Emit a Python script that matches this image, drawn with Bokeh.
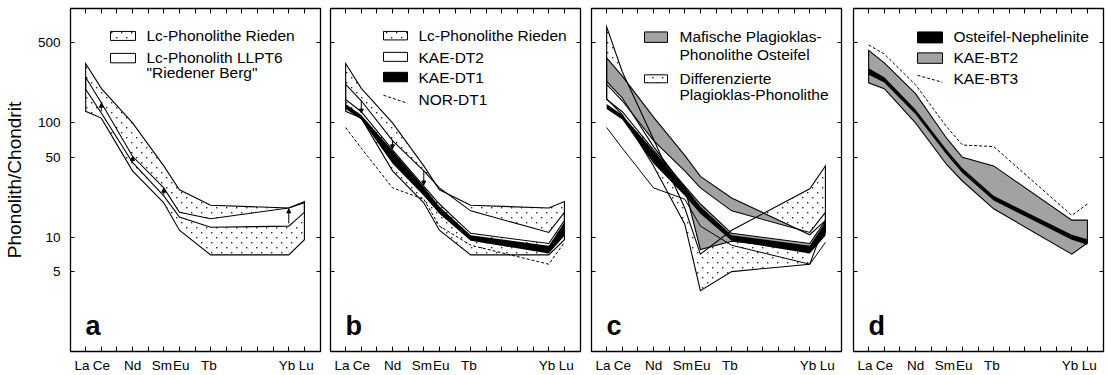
import base64
from bokeh.plotting import figure
from bokeh.layouts import row
from bokeh.models import (FixedTicker, LinearAxis, LogAxis, Range1d, BoxAnnotation,
                          Label, Arrow, NormalHead, NumeralTickFormatter, ImageURLTexture)
from bokeh.embed import file_html
from bokeh.resources import INLINE

# ---------------- data ----------------
REE = ["La", "Ce", "Pr", "Nd", "Pm", "Sm", "Eu", "Gd", "Tb", "Dy", "Ho", "Er", "Tm", "Yb", "Lu"]
ELEMENTS = ["La", "Ce", "Nd", "Sm", "Eu", "Tb", "Yb", "Lu"]
TICK_LABELS = ["La", "Ce", "Nd", "Sm", "Eu", "Tb", "Yb", "Lu"]
Y_TICKS = [5, 10, 50, 100, 500]

# panel a / b : Lc-Phonolithe Rieden (range)
rieden_max = [330, 200, 100, 42, 26, 19, 18, 20.5]
rieden_min = [126, 110, 38, 20, 11.5, 7.0, 7.0, 9.5]
# panel a : Lc-Phonolith LLPT6 "Riedener Berg"
llpt6_max = [250, 150, 51, 27, 16.5, 14.5, 18, 20]
llpt6_min = [196, 122, 45, 23, 15, 12.2, 12.5, 16.5]
llpt6_arrows = ["Ce", "Nd", "Sm", "Yb"]
# panel b : KAE-DT2, KAE-DT1, NOR-DT1
dt2_max = [217, 156, 70, 38, 27, 17, 11, 16.5]
dt2_min = [160, 125, 58, 28, 19.5, 10.8, 8.8, 14]
dt1_max = [146, 117, 57, 27.5, 18.5, 10.4, 8.4, 13.5]
dt1_min = [132, 107, 44, 23, 16, 9.3, 7.2, 10.3]
nor_dt1 = [91, 60, 27, 21.5, 12.5, 8.5, 5.8, 9.0]
dt2_arrows = ["Ce", "Nd", "Sm"]
# panel c : Mafische / Differenzierte Plagioklas-Phonolithe
mafic_max = [370, 256, 112, 52, 34, 22, 10.5, 14]
mafic_min = [230, 165, 62, 27, 7.8, 9.2, 7.8, 11]
diff_max = [690, 280, 72, 18, 7.1, 11.5, 26.5, 42]
diff_min = [162, 118, 42, 13, 3.4, 5.0, 5.8, 13.7]
# panel d : Osteifel-Nephelinite, KAE-BT2, KAE-BT3
neph_max = [300, 250, 131, 58, 40, 23, 10.5, 9.6]
neph_min = [263, 225, 119, 52.5, 36.5, 20.9, 9.5, 8.6]
bt2_max = [430, 335, 180, 73, 50, 42, 14.1, 14.1]
bt2_min = [224, 199, 100, 43, 31, 17.7, 7.1, 8.9]
bt3 = [480, 400, 215, 92, 64, 62, 15.5, 19.5]

X = [REE.index(e) for e in ELEMENTS]

# ---------------- layout constants ----------------
FRAME_W, FRAME_H = 250, 344
TOP, BOTTOM = 8, 23
X0, X1 = -0.97, 15.03
FONT = "Liberation Sans"
GRAY = "#a2a2a2"
LW = 1.1

_tile = ('<svg xmlns="http://www.w3.org/2000/svg" width="10" height="10">'
         '<rect x="1" y="2" width="1.4" height="1.4" fill="#2a2a2a"/>'
         '<rect x="6" y="7" width="1.4" height="1.4" fill="#2a2a2a"/></svg>')
DOT_URL = "data:image/svg+xml;base64," + base64.b64encode(_tile.encode()).decode()
DOT_TEX = ImageURLTexture(url=DOT_URL)
DOTS = dict(hatch_pattern="sdots", hatch_extra={"sdots": DOT_TEX},
            hatch_scale=10, hatch_color="black", hatch_weight=1)

# label nudges (the original labels are not exactly centred on their ticks)
LABEL_TEXT = {"La": "La\u00a0\u00a0", "Ce": "Ce", "Nd": "Nd", "Sm": "Sm\u00a0", "Eu": "\u00a0Eu",
              "Tb": "Tb\u00a0", "Yb": "Yb\u00a0", "Lu": "\u00a0Lu"}


def sx(off):
    return X0 + off / FRAME_W * (X1 - X0)


def sy(py):
    return 10 ** ((TOP + FRAME_H - py) / FRAME_H * 3)


def silent(ax):
    ax.major_label_text_color = None
    ax.major_label_text_font_size = "1px"
    ax.major_label_standoff = 0
    ax.minor_tick_line_color = None
    ax.axis_line_color = None
    ax.major_tick_out = 0


def make_panel(width, left, right, labels):
    p = figure(width=width, height=375, x_range=Range1d(X0, X1), y_range=Range1d(1, 1000),
               y_axis_type="log", output_backend="svg", toolbar_location=None,
               min_border_left=left, min_border_right=right,
               min_border_top=TOP, min_border_bottom=BOTTOM)
    p.grid.visible = False
    p.outline_line_color = "black"
    p.outline_line_width = 1.3
    p.outline_line_alpha = 1.0
    p.background_fill_color = "white"
    p.border_fill_color = "white"

    xa = p.xaxis[0]
    xa.ticker = FixedTicker(ticks=list(range(len(REE))))
    silent(xa)
    xa.major_tick_in = 5
    lab = LinearAxis(ticker=FixedTicker(ticks=[REE.index(e) for e in TICK_LABELS]),
                     major_label_overrides={REE.index(e): LABEL_TEXT[e] for e in TICK_LABELS},
                     major_tick_line_color=None, minor_tick_line_color=None, axis_line_color=None,
                     major_tick_in=0, major_tick_out=0, major_label_standoff=6,
                     major_label_text_font=FONT, major_label_text_font_size="13.5px",
                     major_label_text_color="black")
    p.add_layout(lab, "below")

    ya = p.yaxis[0]
    ya.ticker = FixedTicker(ticks=Y_TICKS)
    ya.formatter = NumeralTickFormatter(format="0")
    ya.major_tick_in = 4
    ya.major_tick_out = 0
    ya.minor_tick_line_color = None
    ya.axis_line_color = None
    if labels:
        ya.major_label_standoff = 10
        ya.major_label_text_font = FONT
        ya.major_label_text_font_size = "13.5px"
        ya.major_label_text_color = "black"
        ya.axis_label = "Phonolith/Chondrit"
        ya.axis_label_text_font = FONT
        ya.axis_label_text_font_size = "19px"
        ya.axis_label_text_font_style = "normal"
        ya.axis_label_text_color = "black"
        ya.axis_label_standoff = 10
    else:
        silent(ya)

    top = LinearAxis(ticker=FixedTicker(ticks=list(range(len(REE)))), major_tick_in=5)
    silent(top)
    p.add_layout(top, "above")
    right_ax = LogAxis(ticker=FixedTicker(ticks=Y_TICKS), major_tick_in=4)
    silent(right_ax)
    p.add_layout(right_ax, "right")
    return p


def band_fill(p, upper, lower, **kw):
    p.patch(X + X[::-1], list(upper) + list(lower)[::-1], line_color=None, **kw)


def band_line(p, upper, lower, width=LW):
    p.patch(X + X[::-1], list(upper) + list(lower)[::-1], fill_color=None,
            line_color="black", line_width=width, line_join="miter")


def dots(p, upper, lower, bg="white"):
    band_fill(p, upper, lower, fill_color=bg, **DOTS)


def swatch(p, y_top, y_bot, x_off0, x_off1, **kw):
    kw.setdefault("fill_alpha", 1.0)
    p.add_layout(BoxAnnotation(left=sx(x_off0), right=sx(x_off1), top=sy(y_top), bottom=sy(y_bot),
                               line_color="black", line_width=1, line_alpha=1.0, **kw))


def text(p, x_off, py, s, size="15.5px"):
    p.add_layout(Label(x=sx(x_off), y=sy(py), text=s, text_font=FONT, text_font_size=size,
                       text_baseline="middle", text_align="left", text_color="black"))


def letter(p, s):
    p.add_layout(Label(x=sx(15), y=sy(326), text=s, text_font=FONT, text_font_size="27px",
                       text_font_style="bold", text_baseline="alphabetic", text_align="left",
                       text_color="black"))


def dash_sample(p, x_off0, y0, x_off1, y1):
    p.add_layout(Arrow(x_start=sx(x_off0), y_start=sy(y0), x_end=sx(x_off1), y_end=sy(y1),
                       start=None, end=None, line_dash="3 2", line_width=1, line_color="black"))


def arrows(p, elems, y_from, y_to):
    for e in elems:
        k = ELEMENTS.index(e)
        p.add_layout(Arrow(x_start=X[k], y_start=y_from[k], x_end=X[k], y_end=y_to[k],
                           line_width=1, line_color="black",
                           end=NormalHead(size=4, fill_color="black", line_color="black")))


# ---------------- panel a ----------------
pa = make_panel(325, 70, 5, True)
dots(pa, rieden_max, rieden_min, bg=None)
band_fill(pa, llpt6_max, llpt6_min, fill_color="white")
band_line(pa, rieden_max, rieden_min)
band_line(pa, llpt6_max, llpt6_min)
arrows(pa, llpt6_arrows,
       [lo * (hi / lo) ** 0.15 for lo, hi in zip(llpt6_min, llpt6_max)],
       [lo * (hi / lo) ** 0.95 for lo, hi in zip(llpt6_min, llpt6_max)])
swatch(pa, 31, 40, 40, 65, fill_color="white", **DOTS)
swatch(pa, 53, 62.5, 40, 65, fill_color="white")
text(pa, 76, 35, "Lc-Phonolithe Rieden")
text(pa, 76, 57, "Lc-Phonolith LLPT6")
text(pa, 76, 72, "\"Riedener Berg\"")
letter(pa, "a")

# ---------------- panel b ----------------
pb = make_panel(261, 5, 6, False)
dots(pb, rieden_max, rieden_min, bg=None)
band_fill(pb, dt2_max, dt2_min, fill_color="white")
band_line(pb, rieden_max, rieden_min)
band_line(pb, dt2_max, dt2_min)
band_fill(pb, dt1_max, dt1_min, fill_color="black")
pb.line(X, nor_dt1, line_color="black", line_width=1, line_dash="3 2")
arrows(pb, dt2_arrows, dt2_max, [v * 1.04 for v in dt1_max])
swatch(pb, 31, 39.5, 53, 77, fill_color="white", **DOTS)
swatch(pb, 52, 61, 53, 77, fill_color="white")
swatch(pb, 72, 81.5, 53, 77, fill_color="black")
dash_sample(pb, 53, 95, 77, 103)
text(pb, 88, 35, "Lc-Phonolithe Rieden")
text(pb, 88, 57, "KAE-DT2")
text(pb, 88, 77.5, "KAE-DT1")
text(pb, 88, 99, "NOR-DT1")
letter(pb, "b")

# ---------------- panel c ----------------
pc = make_panel(261, 5, 6, False)
dots(pc, diff_max, diff_min, bg="white")
band_fill(pc, mafic_max, mafic_min, fill_color=GRAY)
band_fill(pc, dt2_max, dt2_min, fill_color="white")
band_fill(pc, dt1_max, dt1_min, fill_color="black")
band_line(pc, diff_max, diff_min)
band_line(pc, mafic_max, mafic_min)
band_line(pc, dt2_max, dt2_min)
pc.line(X, nor_dt1, line_color="black", line_width=1)
swatch(pc, 31.5, 42, 53, 76, fill_color=GRAY)
swatch(pc, 74.5, 82.5, 53, 76, fill_color="white", **DOTS)
text(pc, 88, 36, "Mafische Plagioklas-")
text(pc, 88, 54, "Phonolithe Osteifel")
text(pc, 88, 78, "Differenzierte")
text(pc, 88, 94.5, "Plagioklas-Phonolithe")
letter(pc, "c")

# ---------------- panel d ----------------
pd_ = make_panel(260, 6, 4, False)
band_fill(pd_, bt2_max, bt2_min, fill_color=GRAY)
band_line(pd_, bt2_max, bt2_min)
band_fill(pd_, neph_max, neph_min, fill_color="black")
pd_.line(X, bt3, line_color="black", line_width=1, line_dash="3 2")
swatch(pd_, 31.5, 42.5, 64, 89, fill_color="black")
swatch(pd_, 52.5, 63, 64, 89, fill_color=GRAY)
dash_sample(pd_, 64, 75, 89, 82)
text(pd_, 100, 36.5, "Osteifel-Nephelinite")
text(pd_, 100, 57.5, "KAE-BT2")
text(pd_, 100, 78.5, "KAE-BT3")
letter(pd_, "d")

layout = row(pa, pb, pc, pd_, spacing=0)
open("out.html", "w").write(file_html(layout, INLINE))
